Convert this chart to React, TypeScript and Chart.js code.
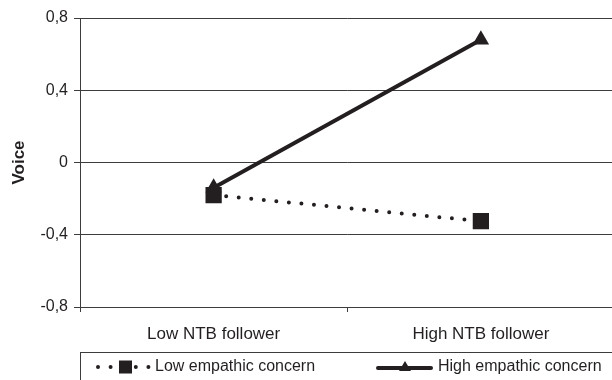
import React, { useEffect, useRef } from "react";
import { Chart, registerables } from "chart.js";

Chart.register(...registerables);

const categories = ["Low NTB follower", "High NTB follower"];
const seriesNames = ["Low empathic concern", "High empathic concern"];
const lowEmpathic = [-0.18, -0.325];
const highEmpathic = [-0.14, 0.68];
const yTicks = [-0.8, -0.4, 0, 0.4, 0.8];
const yTitle = "Voice";

const INK = "#231f20";
const GRID = "#3c3c3c";
const FONT = "'Liberation Sans', Arial, Helvetica, sans-serif";

const legendPlugin = {
  id: "boxLegend",
  afterDraw(chart: any) {
    const ctx = chart.ctx;
    const ds = chart.data.datasets;
    const left = chart.chartArea.left;
    const top = 352.5;
    ctx.save();
    ctx.strokeStyle = GRID;
    ctx.lineWidth = 1;
    ctx.strokeRect(left + 0.5, top, chart.width + 10, 60);
    const cy = 367;
    ctx.font = `16px ${FONT}`;
    ctx.fillStyle = INK;
    ctx.textBaseline = "middle";
    ctx.textAlign = "left";

    // item 1: dotted with square
    const d0 = ds[0];
    ctx.strokeStyle = d0.borderColor;
    ctx.lineWidth = d0.borderWidth;
    ctx.lineCap = "round";
    ctx.setLineDash(d0.borderDash);
    ctx.beginPath();
    ctx.moveTo(98, cy);
    ctx.lineTo(150, cy);
    ctx.stroke();
    ctx.setLineDash([]);
    ctx.fillStyle = d0.pointBackgroundColor;
    ctx.fillRect(119, cy - 6.5, 13, 13);
    ctx.fillStyle = INK;
    ctx.fillText(d0.label, 155, cy);

    // item 2: solid with triangle
    const d1 = ds[1];
    ctx.strokeStyle = d1.borderColor;
    ctx.lineWidth = d1.borderWidth;
    ctx.lineCap = "round";
    ctx.beginPath();
    ctx.moveTo(378, cy + 1);
    ctx.lineTo(431, cy + 1);
    ctx.stroke();
    ctx.fillStyle = d1.pointBackgroundColor;
    ctx.beginPath();
    ctx.moveTo(405, cy - 6);
    ctx.lineTo(411, cy + 4);
    ctx.lineTo(399, cy + 4);
    ctx.closePath();
    ctx.fill();
    ctx.fillStyle = INK;
    ctx.fillText(d1.label, 438, cy);
    ctx.restore();
  },
};

export default function App() {
  const ref = useRef<HTMLCanvasElement | null>(null);
  useEffect(() => {
    if (!ref.current) return;
    const chart = new Chart(ref.current, {
      type: "line",
      data: {
        labels: categories,
        datasets: [
          {
            label: seriesNames[0],
            data: lowEmpathic,
            borderColor: INK,
            backgroundColor: INK,
            borderWidth: 4,
            borderDash: [0, 12.6],
            borderCapStyle: "round",
            pointStyle: "rect",
            pointRadius: 11.5,
            pointBorderWidth: 0,
            pointBackgroundColor: INK,
            pointBorderColor: INK,
            tension: 0,
          },
          {
            label: seriesNames[1],
            data: highEmpathic,
            borderColor: INK,
            backgroundColor: INK,
            borderWidth: 4,
            pointStyle: "triangle",
            pointRadius: 9.5,
            pointBorderWidth: 0,
            pointBackgroundColor: INK,
            pointBorderColor: INK,
            tension: 0,
          },
        ],
      },
      options: {
        animation: false,
        responsive: false,
        maintainAspectRatio: false,
        layout: { padding: { top: 18, right: 0, bottom: 0, left: 0 } },
        plugins: {
          legend: { display: false },
          tooltip: { enabled: false },
        },
        scales: {
          x: {
            type: "category",
            offset: true,
            grid: {
              display: true,
              drawOnChartArea: false,
              drawTicks: true,
              tickLength: 5,
              color: GRID,
              offset: true,
            },
            border: { display: true, color: GRID, width: 1 },
            ticks: {
              color: INK,
              font: { family: FONT, size: 17 },
              padding: 12,
              maxRotation: 0,
            },
            afterFit(scale: any) {
              scale.height = 73;
            },
          },
          y: {
            min: -0.8,
            max: 0.8,
            afterBuildTicks(scale: any) {
              scale.ticks = yTicks.map((v) => ({ value: v }));
            },
            grid: {
              color: GRID,
              lineWidth: 1,
              tickLength: 6,
              drawTicks: true,
            },
            border: { display: true, color: GRID, width: 1 },
            ticks: {
              color: INK,
              font: { family: FONT, size: 16 },
              padding: 6,
              callback: (v: any) => {
                const r = Math.round(Number(v) * 10) / 10;
                return r === 0 ? "0" : r.toFixed(1).replace(".", ",");
              },
            },
            title: {
              display: true,
              text: yTitle,
              color: INK,
              font: { family: FONT, size: 17, weight: "bold" },
              padding: { top: 9, bottom: 0 },
            },
            afterFit(scale: any) {
              scale.width = 80;
            },
          },
        },
      },
      plugins: [legendPlugin],
    });
    return () => chart.destroy();
  }, []);
  return (
    <div style={{ position: "fixed", left: 0, top: 0, width: 612, height: 380, overflow: "hidden", background: "#fff" }}>
      <div style={{ width: 626, height: 380 }}>
        <canvas ref={ref} width={626} height={380} style={{ display: "block", width: 626, height: 380 }} />
      </div>
    </div>
  );
}
